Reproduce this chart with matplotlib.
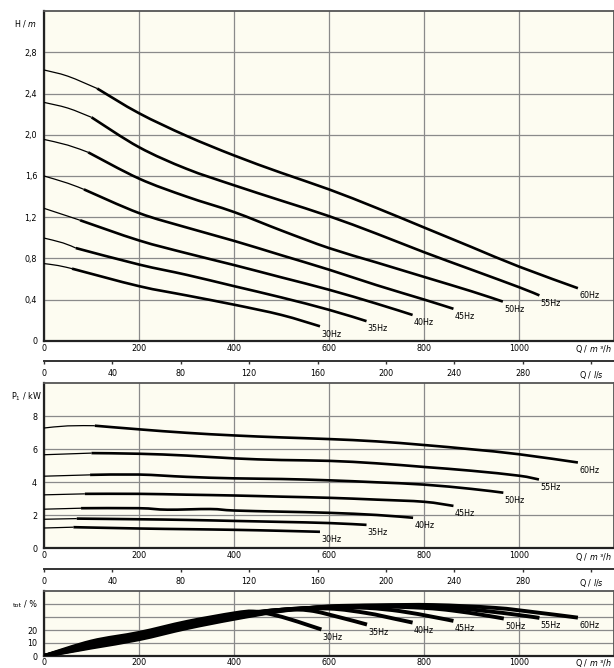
import matplotlib.pyplot as plt
import numpy as np
from matplotlib.path import Path
from matplotlib.patches import PathPatch

plt.rcParams.update({
    'font.family': 'DejaVu Sans',
    'font.size': 5.8,
    'mathtext.fontset': 'dejavusans',
    'axes.linewidth': 1.2,
})

# frequencies of the curve families
freqs = ['30Hz', '35Hz', '40Hz', '45Hz', '50Hz', '55Hz', '60Hz']

# ---- H / m against Q / m3/h ----
h_q = {
    '30Hz': [0, 30, 59, 200, 300, 400, 500, 581],
    '35Hz': [0, 40, 67, 200, 300, 400, 500, 600, 679],
    '40Hz': [0, 50, 76, 200, 300, 400, 500, 600, 700, 776],
    '45Hz': [0, 50, 84, 200, 300, 400, 500, 600, 700, 800, 862],
    '50Hz': [0, 50, 93, 200, 300, 400, 500, 600, 700, 800, 900, 966],
    '55Hz': [0, 50, 100, 200, 300, 400, 500, 600, 700, 800, 900, 1000, 1043],
    '60Hz': [0, 50, 112, 200, 300, 400, 500, 600, 700, 800, 900, 1000, 1124],
}
h_val = {
    '30Hz': [0.749, 0.73, 0.70, 0.53, 0.44, 0.35, 0.25, 0.14],
    '35Hz': [0.997, 0.95, 0.90, 0.74, 0.64, 0.53, 0.42, 0.30, 0.19],
    '40Hz': [1.286, 1.21, 1.17, 0.974, 0.85, 0.735, 0.615, 0.495, 0.36, 0.25],
    '45Hz': [1.60, 1.53, 1.47, 1.24, 1.10, 0.97, 0.83, 0.69, 0.54, 0.40, 0.31],
    '50Hz': [1.955, 1.90, 1.83, 1.575, 1.40, 1.25, 1.07, 0.90, 0.76, 0.62, 0.48, 0.38],
    '55Hz': [2.315, 2.26, 2.17, 1.88, 1.67, 1.51, 1.36, 1.21, 1.04, 0.86, 0.69, 0.52, 0.44],
    '60Hz': [2.63, 2.57, 2.45, 2.21, 1.99, 1.80, 1.63, 1.47, 1.29, 1.10, 0.91, 0.72, 0.51],
}

# ---- P1 / kW against Q / m3/h ----
p_q = {
    '30Hz': [0, 62, 200, 300, 400, 500, 581],
    '35Hz': [0, 69, 200, 300, 400, 500, 600, 679],
    '40Hz': [0, 78, 200, 260, 350, 400, 500, 600, 700, 777],
    '45Hz': [0, 86, 200, 300, 400, 500, 600, 700, 800, 862],
    '50Hz': [0, 97, 200, 300, 400, 500, 600, 700, 800, 900, 967],
    '55Hz': [0, 100, 200, 300, 400, 500, 600, 700, 800, 900, 1000, 1042],
    '60Hz': [0, 50, 107, 200, 300, 400, 500, 600, 700, 800, 900, 1000, 1124],
}
p_val = {
    '30Hz': [1.23, 1.28, 1.20, 1.16, 1.12, 1.06, 1.00],
    '35Hz': [1.76, 1.80, 1.76, 1.72, 1.66, 1.60, 1.53, 1.42],
    '40Hz': [2.37, 2.43, 2.43, 2.34, 2.38, 2.29, 2.22, 2.15, 2.02, 1.85],
    '45Hz': [3.24, 3.30, 3.30, 3.25, 3.20, 3.13, 3.06, 2.95, 2.82, 2.57],
    '50Hz': [4.37, 4.45, 4.47, 4.33, 4.24, 4.20, 4.12, 4.00, 3.86, 3.60, 3.37],
    '55Hz': [5.67, 5.77, 5.73, 5.62, 5.45, 5.35, 5.30, 5.15, 4.93, 4.70, 4.40, 4.17],
    '60Hz': [7.29, 7.42, 7.43, 7.21, 7.00, 6.84, 6.72, 6.62, 6.48, 6.26, 6.00, 5.70, 5.20],
}

# Q where the thin (start) part of each curve ends
h_thick_from = {'30Hz': 59, '35Hz': 67, '40Hz': 76, '45Hz': 84, '50Hz': 93, '55Hz': 100, '60Hz': 112}
p_thick_from = {'30Hz': 62, '35Hz': 69, '40Hz': 78, '45Hz': 86, '50Hz': 97, '55Hz': 100, '60Hz': 107}

# ---- efficiency tot / % against Q / m3/h ----
e_q = {
    '30Hz': [0, 100, 200, 300, 400, 440, 480, 520, 550, 584],
    '35Hz': [0, 100, 200, 300, 400, 500, 560, 620, 680],
    '40Hz': [0, 100, 200, 300, 400, 500, 600, 680, 740, 776],
    '45Hz': [0, 100, 200, 300, 400, 500, 600, 680, 750, 820, 862],
    '50Hz': [0, 100, 200, 300, 400, 500, 600, 700, 800, 860, 925, 968],
    '55Hz': [0, 100, 200, 300, 400, 500, 600, 700, 820, 920, 1000, 1043],
    '60Hz': [0, 100, 200, 300, 400, 500, 600, 700, 820, 950, 1030, 1124],
}
e_val = {
    '30Hz': [0, 11.2, 17.8, 26.2, 32.8, 34.2, 32.0, 28.0, 24.5, 20.4],
    '35Hz': [0, 10.2, 17.0, 25.0, 31.8, 35.5, 35.0, 30.0, 24.2],
    '40Hz': [0, 9.4, 16.2, 24.2, 31.0, 35.6, 36.5, 33.0, 28.5, 25.7],
    '45Hz': [0, 8.6, 15.3, 23.4, 30.4, 35.6, 37.2, 37.0, 34.5, 30.0, 27.0],
    '50Hz': [0, 7.8, 14.5, 22.8, 29.8, 35.3, 37.6, 38.2, 37.0, 35.0, 31.5, 28.8],
    '55Hz': [0, 7.1, 13.7, 22.1, 29.2, 35.0, 37.9, 38.6, 38.2, 35.0, 31.5, 29.3],
    '60Hz': [0, 6.5, 12.9, 21.4, 28.6, 34.7, 38.1, 39.0, 39.2, 37.0, 33.8, 29.5],
}

bg = '#fdfcf1'
grid_c = '#8a8a8a'

fig = plt.figure(figsize=(6.14, 6.68), dpi=100)
W, H = 614.0, 668.0


def make_ax(top, bottom, qlab_dy=-6.1, pad=2.2):
    ax = fig.add_axes([44 / W, 1 - bottom / H, 570 / W, (bottom - top) / H])
    ax.set_facecolor(bg)
    ax.set_xlim(0, 1200)
    ax.set_xticks([0, 200, 400, 600, 800, 1000])
    ax.tick_params(length=0, pad=pad)
    ax.tick_params(axis='y', pad=5)
    ax.grid(True, color=grid_c, linewidth=0.9)
    ax.set_axisbelow(True)
    for s in ['top', 'right']:
        ax.spines[s].set_color('#555555')
        ax.spines[s].set_linewidth(1.3)
    for s in ['left', 'bottom']:
        ax.spines[s].set_color('#222222')
        ax.spines[s].set_linewidth(1.6)
    ax.annotate('Q / $m$ ³/$h$', xy=(1, 0), xycoords='axes fraction',
                xytext=(-1.5, qlab_dy), textcoords='offset points',
                ha='right', va='center')
    return ax


def add_ls_axis(ax, loc):
    sec = ax.secondary_xaxis(loc, functions=(lambda q: q / 3.6, lambda l: l * 3.6))
    sec.set_xticks(list(range(0, 321, 40)))
    sec.set_xticklabels([str(v) for v in range(0, 281, 40)] + ['Q / $l$/$s$'])
    sec.tick_params(direction='out', length=2.4, width=1.0, pad=3.0, color='#333333')
    sec.spines['bottom'].set_linewidth(1.4)
    sec.spines['bottom'].set_color('#333333')
    return sec


def smooth_line(ax, q, v, lw):
    # draw a smooth (Catmull-Rom -> Bezier) line through the read points
    pts = np.column_stack([q, v]).astype(float)
    verts = [pts[0]]
    codes = [Path.MOVETO]
    n = len(pts)
    for i in range(n - 1):
        p0 = pts[i - 1] if i > 0 else pts[i]
        p1, p2 = pts[i], pts[i + 1]
        p3 = pts[i + 2] if i + 2 < n else pts[i + 1]
        verts += [p1 + (p2 - p0) / 6.0, p2 - (p3 - p1) / 6.0, p2]
        codes += [Path.CURVE4] * 3
    ax.add_patch(PathPatch(Path(verts, codes), fill=False, edgecolor='black',
                           lw=lw, capstyle='butt', zorder=3))


def draw_family(ax, qd, vd, thick_from, lw_thin=0.9, lw_thick=1.9):
    for f in freqs:
        q = np.array(qd[f])
        v = np.array(vd[f])
        if thick_from is not None:
            t = q <= thick_from[f]
            smooth_line(ax, q[t], v[t], lw_thin)
            k = q >= thick_from[f]
            smooth_line(ax, q[k], v[k], lw_thick)
        else:
            smooth_line(ax, q, v, lw_thick)
        ax.annotate(f, xy=(q[-1], v[-1]), xytext=(0.8, -5.6), textcoords='offset points',
                    ha='left', va='center', zorder=4)


# top: head
ax1 = make_ax(11.3, 340.7)
ax1.set_ylim(0, 3.2)
ax1.set_yticks(np.arange(0, 2.81, 0.4))
ax1.set_yticklabels(['0', '0,4', '0,8', '1,2', '1,6', '2,0', '2,4', '2,8'])
draw_family(ax1, h_q, h_val, h_thick_from)
ax1.text(-0.012, 3.08, 'H / $m$', transform=ax1.get_yaxis_transform(), ha='right', va='center')
add_ls_axis(ax1, -0.063)

# middle: power input
ax2 = make_ax(383.3, 548.3)
ax2.set_ylim(0, 10)
ax2.set_yticks([0, 2, 4, 6, 8])
draw_family(ax2, p_q, p_val, p_thick_from)
ax2.text(-0.004, 9.2, 'P$_1$ / kW', transform=ax2.get_yaxis_transform(), ha='right', va='center')
add_ls_axis(ax2, -0.127)

# bottom: efficiency
ax3 = make_ax(591, 656, qlab_dy=-5.2, pad=1.4)
ax3.set_ylim(0, 50)
ax3.set_yticks([0, 10, 20, 30, 40])
ax3.set_yticklabels(['0', '10', '20', '', ''])
draw_family(ax3, e_q, e_val, None, lw_thick=2.8)
ax3.text(-0.012, 40, '/ %', transform=ax3.get_yaxis_transform(), ha='right', va='center')
ax3.text(-0.039, 38.5, 'tot', transform=ax3.get_yaxis_transform(), ha='right', va='center',
         fontsize=4.6)

fig.savefig('out.png', dpi=100, facecolor='white')
